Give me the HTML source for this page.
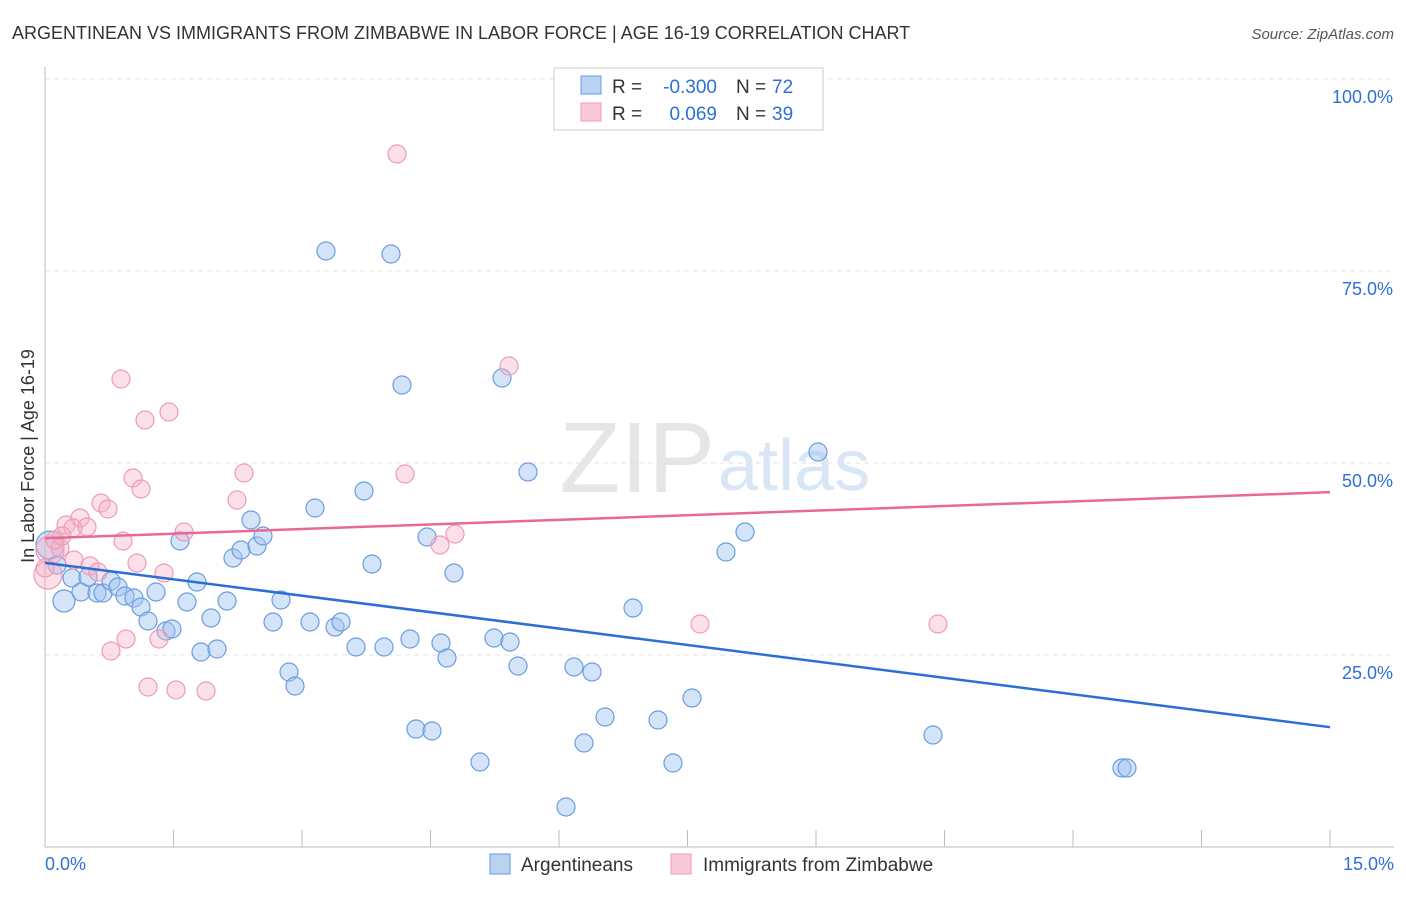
<!DOCTYPE html>
<html><head><meta charset="utf-8"><style>
body{margin:0;background:#fff;font-family:"Liberation Sans",sans-serif;}
svg text{font-family:"Liberation Sans",sans-serif;}
</style></head><body>
<svg id="chart" width="1406" height="892" xmlns="http://www.w3.org/2000/svg">
<text x="12" y="39" font-size="18" fill="#333">ARGENTINEAN VS IMMIGRANTS FROM ZIMBABWE IN LABOR FORCE | AGE 16-19 CORRELATION CHART</text>
<text x="1394" y="39" font-size="15" fill="#555" font-style="italic" text-anchor="end">Source: ZipAtlas.com</text>
<text x="715" y="492" font-size="100" fill="#e6e6e6" font-family="Liberation Serif" text-anchor="end">ZIP</text>
<text x="718" y="490" font-size="72" fill="#d8e6f6">atlas</text>
<g id="grid"></g>
<g id="pts"></g>
<g id="lines"></g>
<text transform="translate(34,456) rotate(-90)" font-size="18" fill="#333" text-anchor="middle">In Labor Force | Age 16-19</text>
<rect x="554" y="68" width="269" height="62" fill="#fff" stroke="#ccc"/>
<rect x="581" y="76" width="20" height="18" fill="#b8d2f4" stroke="#6a9be0"/>
<rect x="581" y="103" width="20" height="18" fill="#f9c9d8" stroke="#ee9ab5"/>
<g font-size="19">
<text x="612" y="93" fill="#333">R =</text>
<text x="717" y="93" fill="#2e6fd8" text-anchor="end">-0.300</text>
<text x="736" y="93" fill="#333">N =</text>
<text x="772" y="93" fill="#2e6fd8">72</text>
</g>
<g font-size="19">
<text x="612" y="120" fill="#333">R =</text>
<text x="717" y="120" fill="#2e6fd8" text-anchor="end">0.069</text>
<text x="736" y="120" fill="#333">N =</text>
<text x="772" y="120" fill="#2e6fd8">39</text>
</g>
<rect x="490" y="854" width="20" height="20" fill="#b8d2f4" stroke="#6a9be0"/>
<text x="521" y="871" font-size="19" fill="#333">Argentineans</text>
<rect x="671" y="854" width="20" height="20" fill="#f9c9d8" stroke="#ee9ab5"/>
<text x="703" y="871" font-size="19" fill="#333">Immigrants from Zimbabwe</text>
<text x="45" y="870" font-size="18" fill="#2e6fd8">0.0%</text>
<text x="1394" y="870" font-size="18" fill="#2e6fd8" text-anchor="end">15.0%</text>
</svg>
<script>
const yTicks=[100,75,50,25];
const yTickLabels=["100.0%","75.0%","50.0%","25.0%"];
const blueX=[50,57,64,72,81,88,97,103,111,118,125,134,141,148,156,166,172,180,187,197,201,211,217,227,233,241,251,257,263,273,281,289,295,310,315,335,341,356,364,372,384,391,326,402,410,416,427,432,441,447,454,480,494,502,510,518,528,566,574,584,592,605,633,658,673,692,726,745,818,933,1122,1127].map(p=>(p-45)/1285*15);
const blueY=[545,565,601,578,592,577,593,593,581,587,596,598,607,621,592,631,629,541,602,582,652,618,649,601,558,550,520,546,536,622,600,672,686,622,508,627,622,647,491,564,647,254,251,385,639,729,537,731,643,658,573,762,638,378,642,666,472,807,667,743,672,717,608,720,763,698,552,532,452,735,768,768].map(p=>(847-p)/192*25);
const blueR=[14,9,11,9,9,9,9,9,9,9,9,9,9,9,9,9,9,9,9,9,9,9,9,9,9,9,9,9,9,9,9,9,9,9,9,9,9,9,9,9,9,9,9,9,9,9,9,9,9,9,9,9,9,9,9,9,9,9,9,9,9,9,9,9,9,9,9,9,9,9,9,9];
const pinkX=[397,509,121,145,169,133,141,244,237,405,101,108,80,66,73,87,123,184,455,440,50,48,60,74,90,98,137,164,126,111,159,148,176,206,700,938,55,45,62].map(p=>(p-45)/1285*15);
const pinkY=[154,366,379,420,412,478,489,473,500,474,503,509,518,525,528,527,541,532,534,545,550,575,548,560,566,572,563,573,639,651,639,687,690,691,624,624,540,568,536].map(p=>(847-p)/192*25);
const pinkR=[9,9,9,9,9,9,9,9,9,9,9,9,9,9,9,9,9,9,9,9,14,14,9,9,9,9,9,9,9,9,9,9,9,9,9,9,9,9,9];
const blueLine=[37.0,15.6];
const pinkLine=[40.2,46.2];
const X=v=>45+v/15*1285, Y=v=>847-v/25*192;
const NS="http://www.w3.org/2000/svg";
const grid=document.getElementById('grid'),pts=document.getElementById('pts'),lines=document.getElementById('lines');
function mk(tag,attrs,parent){const e=document.createElementNS(NS,tag);for(const k in attrs)e.setAttribute(k,attrs[k]);parent.appendChild(e);return e;}
yTicks.forEach((t,i)=>{
 const l=mk('line',{x1:45,x2:1394,y1:Y(t),y2:Y(t),stroke:'#e3e3e3','stroke-dasharray':'5,4'},grid);
 
 
 const tx=mk('text',{x:1393,y:Y(t)+24,'font-size':18,fill:'#2e6fd8','text-anchor':'end'},grid);
 tx.textContent=yTickLabels[i];
 
 
});
const ax=mk('line',{x1:45,x2:45,y1:67,y2:847,stroke:'#bbb'},grid);


const bx=mk('line',{x1:45,x2:1394,y1:847,y2:847,stroke:'#bbb'},grid);


for(let i=1;i<=10;i++){const xx=45+i*128.5;
 const tk=mk('line',{x1:xx,x2:xx,y1:830,y2:847,stroke:'#bbb'},grid);
 
 
}
blueX.forEach((v,i)=>{
 const c=mk('circle',{cx:X(v),cy:Y(blueY[i]),r:blueR[i],fill:'rgba(160,195,240,0.45)',stroke:'#6a9be0','stroke-width':1.2},pts);
 
 
});
pinkX.forEach((v,i)=>{
 const c=mk('circle',{cx:X(v),cy:Y(pinkY[i]),r:pinkR[i],fill:'rgba(245,175,200,0.4)',stroke:'#ee9ab5','stroke-width':1.2},pts);
 
 
});
const bl=mk('line',{x1:X(0),y1:Y(blueLine[0]),x2:X(15),y2:Y(blueLine[1]),stroke:'#2b6fd6','stroke-width':2.5},lines);


const pl=mk('line',{x1:X(0),y1:Y(pinkLine[0]),x2:X(15),y2:Y(pinkLine[1]),stroke:'#e86a93','stroke-width':2.5},lines);


</script>
</body></html>
